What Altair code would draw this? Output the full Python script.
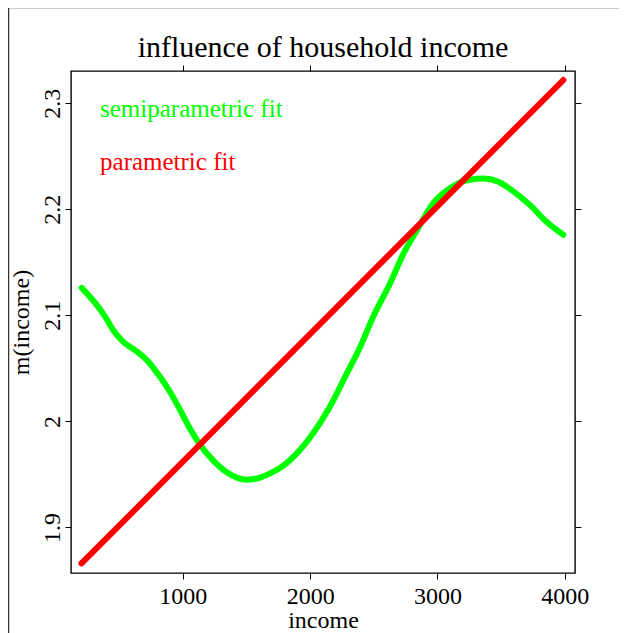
import altair as alt
import pandas as pd

# semiparametric fit (green curve)
semi_income = [206, 310, 389, 454, 533, 638, 716, 821, 899, 978, 1057, 1135, 1240,
               1345, 1502, 1606, 1685, 1763, 1920, 2025, 2156, 2287, 2392, 2496,
               2627, 2732, 2837, 2967, 3098, 3255, 3360, 3478, 3596, 3727, 3858, 3988]
semi_m = [2.126, 2.112, 2.099, 2.086, 2.075, 2.066, 2.058, 2.042, 2.028, 2.011, 1.993,
          1.978, 1.963, 1.952, 1.945, 1.947, 1.951, 1.956, 1.973, 1.989, 2.014, 2.045,
          2.070, 2.099, 2.130, 2.158, 2.180, 2.206, 2.220, 2.228, 2.229, 2.226, 2.217,
          2.204, 2.188, 2.176]

# parametric fit (red line)
par_income = [204, 3988]
par_m = [1.866, 2.322]

x_ticks = [1000, 2000, 3000, 4000]
y_ticks = [1.9, 2.0, 2.1, 2.2, 2.3]
x_domain = [122, 4080]
y_domain = [1.857, 2.3305]

title_text = ["influence of household income"]
legend_labels = ["semiparametric fit", "parametric fit"]
legend_colors = ["#00ff00", "#ff0000"]
legend_x = [350, 350]
legend_y = [2.287, 2.237]

FONT = "Liberation Serif"
W, H = 504, 502

semi_df = pd.DataFrame({"income": semi_income, "m": semi_m})
par_df = pd.DataFrame({"income": par_income, "m": par_m})
leg_df = pd.DataFrame({"label": legend_labels, "color": legend_colors,
                       "income": legend_x, "m": legend_y})
title_df = pd.DataFrame({"t": title_text})

xs = alt.Scale(domain=x_domain, nice=False, zero=False)
ys = alt.Scale(domain=y_domain, nice=False, zero=False)

x_bottom = alt.Axis(orient="bottom", values=x_ticks, title="income", grid=False,
                    domain=False, ticks=True, tickSize=6, tickColor="#000",
                    labelFont=FONT, labelFontSize=24, labelColor="#000",
                    labelPadding=5, format="d",
                    titleFont=FONT, titleFontSize=24, titleFontWeight="normal",
                    titleColor="#000", titleBaseline="alphabetic", titleY=54)
y_left = alt.Axis(orient="left", values=y_ticks, title="m(income)", grid=False,
                  domain=False, ticks=True, tickSize=6, tickColor="#000",
                  labelFont=FONT, labelFontSize=24, labelColor="#000",
                  labelAngle=270, labelAlign="center", labelBaseline="bottom",
                  labelPadding=1, labelExpr="datum.value == 2 ? '2' : format(datum.value, '.1f')",
                  titleFont=FONT, titleFontSize=24, titleFontWeight="normal",
                  titleColor="#000", titleAngle=270, titleBaseline="alphabetic",
                  titleX=-43, titleY=H / 2)
x_top = alt.Axis(orient="top", values=x_ticks, title=None, labels=False, grid=False,
                 domain=False, tickSize=6, tickColor="#000")
y_right = alt.Axis(orient="right", values=y_ticks, title=None, labels=False, grid=False,
                   domain=False, tickSize=6, tickColor="#000")

semi = alt.Chart(semi_df).mark_line(color="#00ff00", strokeWidth=6, strokeCap="round",
                                    strokeJoin="round", interpolate="monotone").encode(
    x=alt.X("income:Q", scale=xs, axis=x_bottom),
    y=alt.Y("m:Q", scale=ys, axis=y_left),
)
par = alt.Chart(par_df).mark_line(color="#ff0000", strokeWidth=6, strokeCap="round").encode(
    x=alt.X("income:Q", scale=xs, axis=x_bottom),
    y=alt.Y("m:Q", scale=ys, axis=y_left),
)
leg = alt.Chart(leg_df).mark_text(font=FONT, fontSize=25, align="left",
                                  baseline="alphabetic").encode(
    x=alt.X("income:Q", scale=xs, axis=x_bottom),
    y=alt.Y("m:Q", scale=ys, axis=y_left),
    text="label:N",
    color=alt.Color("color:N", scale=None),
)
ticks2 = alt.Chart(par_df).mark_point(opacity=0).encode(
    x=alt.X("income:Q", scale=xs, axis=x_top),
    y=alt.Y("m:Q", scale=ys, axis=y_right),
)
main = alt.layer(semi, par, leg)

title_mark = alt.Chart(title_df).mark_text(font=FONT, fontSize=30, align="center",
                                           baseline="alphabetic", color="#000").encode(
    x=alt.value(W / 2), y=alt.value(-14), text="t:N")

frame_v = alt.Chart(title_df).mark_rule(color="#333", strokeWidth=1.5).encode(
    x=alt.value(-62.5), y=alt.value(-63.5), y2=alt.value(700))
frame_h = alt.Chart(title_df).mark_rule(color="#333", strokeWidth=1.5).encode(
    x=alt.value(-62.5), x2=alt.value(700), y=alt.value(-63.5))

chart = alt.layer(main, ticks2, title_mark, frame_v, frame_h).resolve_scale(
    x="independent", y="independent"
).resolve_axis(x="independent", y="independent").properties(
    width=W, height=H,
    background="white",
    autosize=alt.AutoSizeParams(type="none"),
    padding={"left": 63, "top": 63, "right": 44, "bottom": 62},
).configure_view(stroke="#000", strokeWidth=1.4)

chart.save("out.html", embed_options={"renderer": "svg", "actions": False})
